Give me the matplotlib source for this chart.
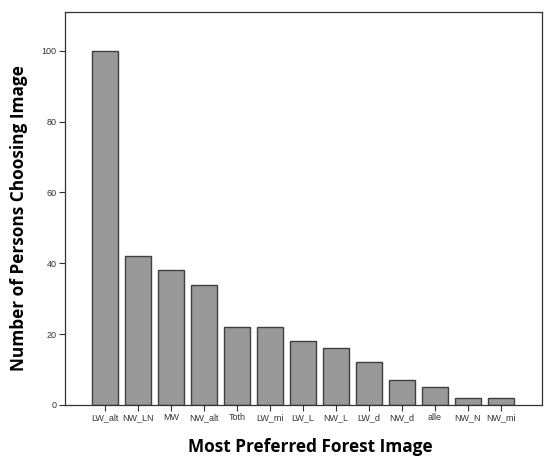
import matplotlib

matplotlib.use("Agg")
import matplotlib.pyplot as plt
import numpy as np

categories = ["LW_alt", "NW_LN", "MW", "NW_alt", "Toth", "LW_mi", "LW_L",
              "NW_L", "LW_d", "NW_d", "alle", "NW_N", "NW_mi"]
counts = [100, 42, 38, 34, 22, 22, 18, 16, 12, 7, 5, 2, 2]
y_ticks = [0, 20, 40, 60, 80, 100]

fig = plt.figure(figsize=(5.5, 4.62), dpi=100)
ax = fig.add_axes([0.118, 0.1234, 0.867, 0.851])

x = np.arange(len(categories))
ax.bar(x, counts, width=0.78, color="#999999", edgecolor="#404040", linewidth=1.0)

ax.set_xlim(-1.21, 13.24)
ax.set_ylim(0, 111)
ax.set_xticks(x)
ax.set_xticklabels(categories, fontsize=6.5, color="#333333", family="Liberation Sans")
ax.set_yticks(y_ticks)
ax.set_yticklabels([str(v) for v in y_ticks], fontsize=6.5, color="#333333", family="Liberation Sans")
ax.tick_params(direction="out", length=4, width=0.8, color="#333333", pad=2)

for s in ax.spines.values():
    s.set_color("#333333")
    s.set_linewidth(0.9)

ax.set_xlabel("Most Preferred Forest Image", fontsize=12.4, fontweight="bold",
              family="Open Sans")
ax.set_ylabel("Number of Persons Choosing Image", fontsize=12.4, fontweight="bold",
              family="Open Sans")
ax.xaxis.set_label_coords(0.514, -0.107)
ax.yaxis.set_label_coords(-0.096, 0.476)
ax.xaxis.label.set_va("center")
ax.yaxis.label.set_va("center")

fig.savefig("out.png", dpi=100)
